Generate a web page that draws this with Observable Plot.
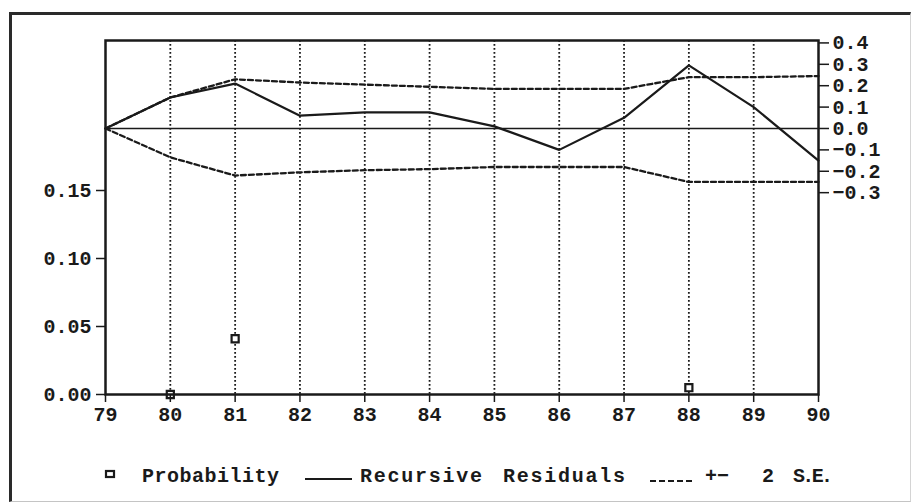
<!DOCTYPE html>
<html><head><meta charset="utf-8">
<script src="https://cdn.jsdelivr.net/npm/d3@7"></script>
<script src="https://cdn.jsdelivr.net/npm/@observablehq/plot@0.6"></script>
<style>
html,body{margin:0;padding:0;background:#fff;overflow:hidden;}
#page{position:relative;width:913px;height:503px;}
#box{position:absolute;left:9px;top:12px;width:902px;height:490px;box-sizing:border-box;border-left:3px solid #2a2a2a;border-top:3px solid #2a2a2a;border-right:1px solid #d4d4d4;border-bottom:1px solid #c4c4c4;}
#chart{position:absolute;left:0;top:0;}
#legend{position:absolute;left:0;top:0;}
#legend text{font-family:"Liberation Mono",monospace;font-weight:bold;font-size:20px;fill:#1a1a1a;}
</style></head>
<body>
<div id="page">
  <div id="box"></div>
  <div id="chart"></div>
  <svg id="legend" width="913" height="503"></svg>
</div>
<script>
// ---- data ----
const years      = [79, 80, 81, 82, 83, 84, 85, 86, 87, 88, 89, 90];
const residuals  = [0.0, 0.145, 0.21, 0.06, 0.075, 0.075, 0.01, -0.10, 0.05, 0.295, 0.10, -0.15];
const upperSE    = [0.0, 0.145, 0.23, 0.215, 0.205, 0.195, 0.185, 0.185, 0.185, 0.24, 0.24, 0.245];
const lowerSE    = [0.0, -0.135, -0.22, -0.205, -0.195, -0.19, -0.18, -0.18, -0.18, -0.25, -0.25, -0.25];
const probYears  = [80, 81, 88];
const probValues = [0.0, 0.041, 0.005];
const probTicks  = [0, 0.05, 0.10, 0.15];
const residTicks = [-0.3, -0.2, -0.1, 0.0, 0.1, 0.2, 0.3, 0.4];
const gridYears  = [80, 81, 82, 83, 84, 85, 86, 87, 88, 89];
const legendLabels = ["Probability", "Recursive", "Residuals", "+\u2212", "2", "S.E."];

// dual axis: residual axis (right) expressed in probability-axis units (left)
const R0 = 0.1956;   // probability-axis value where residual = 0
const K  = 0.1573;   // probability-axis units per residual unit
const toP = r => R0 + r * K;
const fmtR = p => {
  const v = Math.round(((p - R0) / K) * 10) / 10;
  return (v === 0 ? 0 : v).toFixed(1).replace("-", "\u2212");
};

const rows = years.map((x, i) => ({x, r: toP(residuals[i]), u: toP(upperSE[i]), l: toP(lowerSE[i])}));
const probs = probYears.map((x, i) => ({x, p: probValues[i]}));

const ink = "#1a1a1a";
const chart = Plot.plot({
  width: 913, height: 430,
  marginLeft: 105, marginRight: 95, marginTop: 40, marginBottom: 36,
  style: {background: "transparent", fontFamily: "Liberation Mono, monospace", fontWeight: "bold", fontSize: "20px", color: ink},
  x: {domain: [79, 90]},
  y: {domain: [0, 0.2603]},
  marks: [
    Plot.ruleX(gridYears, {stroke: ink, strokeWidth: 1.8, strokeDasharray: "1.8,2.2"}),
    Plot.ruleY([toP(0)], {stroke: ink, strokeWidth: 1.6}),
    Plot.line(rows, {x: "x", y: "u", stroke: ink, strokeWidth: 2.3, strokeDasharray: "5,3"}),
    Plot.line(rows, {x: "x", y: "l", stroke: ink, strokeWidth: 2.3, strokeDasharray: "5,3"}),
    Plot.line(rows, {x: "x", y: "r", stroke: ink, strokeWidth: 2.2}),
    Plot.dot(probs, {x: "x", y: "p", symbol: "square", r: 4, stroke: ink, strokeWidth: 2.2, fill: "white"}),
    Plot.frame({stroke: ink, strokeWidth: 2.5}),
    Plot.axisX({ticks: years, tickFormat: d => String(d), tickSize: 8, tickPadding: 4, strokeWidth: 1.5, label: null}),
    Plot.axisY({ticks: probTicks, tickFormat: d3.format(".2f"), tickSize: 9, tickPadding: 5, strokeWidth: 1.5, label: null}),
    Plot.axisY({anchor: "right", ticks: residTicks.map(toP), tickFormat: fmtR, tickSize: 10, tickPadding: 4, strokeWidth: 1.5, label: null})
  ]
});
document.getElementById("chart").append(chart);

// ---- legend (below the plot) ----
const lg = d3.select("#legend");
const base = 482;
lg.append("rect").attr("x", 106).attr("y", 471).attr("width", 8).attr("height", 6)
  .attr("fill", "white").attr("stroke", ink).attr("stroke-width", 2.2);
lg.append("line").attr("x1", 305).attr("x2", 352).attr("y1", 479).attr("y2", 479)
  .attr("stroke", ink).attr("stroke-width", 2.2);
lg.append("line").attr("x1", 650).attr("x2", 695).attr("y1", 481).attr("y2", 481)
  .attr("stroke", ink).attr("stroke-width", 2.2).attr("stroke-dasharray", "6,3");
const pos = [[142, 137], [360, 122], [503, 122], [705, null], [762, null], [793, 40]];
legendLabels.forEach((t, i) => {
  const el = lg.append("text").attr("x", pos[i][0]).attr("y", base).text(t);
  if (pos[i][1]) el.attr("textLength", pos[i][1]).attr("lengthAdjust", "spacing");
});
</script>
</body></html>
